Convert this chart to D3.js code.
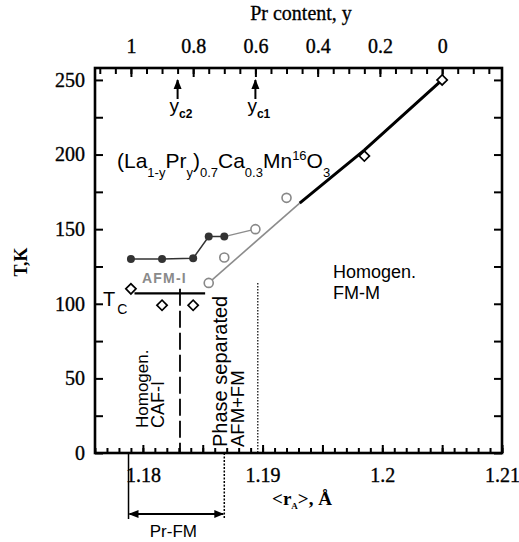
<!DOCTYPE html>
<html><head><meta charset="utf-8">
<script src="https://cdn.jsdelivr.net/npm/d3@7"></script>
<style>body{margin:0;background:#fff}svg{display:block}</style>
</head><body>
<svg id="chart" width="519" height="542"></svg>
<script>
// Phase diagram of (La1-yPry)0.7Ca0.3Mn16O3: transition temperatures vs <rA>
const fmDiamonds     = [[1.2050, 250], [1.1985, 199]];
const fmOpenCircles  = [[1.1920, 171], [1.1894, 150], [1.1868, 131], [1.1855, 114]];
const afmFilled      = [[1.1790, 130], [1.1816, 130], [1.1842, 130.5], [1.1855, 145], [1.1868, 145]];
const afmTail        = [[1.1868, 145], [1.1894, 150]];
const tcDiamonds     = [[1.1790, 110], [1.1816, 99], [1.1842, 99]];
const fmLineBlack    = [[1.2050, 250], [1.1985, 203], [1.1931, 167.5]];
const fmLineGray     = [[1.1931, 167.5], [1.1855, 114]];
const tcLine         = [[1.1793, 107], [1.1852, 107]];
const boundaryDashed = [[1.1831, 110], [1.1831, 0]];
const boundaryDotted = [[1.1896, 114], [1.1896, 0]];
const prFmRange      = [1.1788, 1.1868];
const ycMarks        = [{sub: "c2", y: 0.85}, {sub: "c1", y: 0.6}];

const xTickLabels   = [1.18, 1.19, 1.20, 1.21];
const yTickLabels   = [0, 50, 100, 150, 200, 250];
const topTickLabels = [1, 0.8, 0.6, 0.4, 0.2, 0];
const rAatY         = [1.2050, 1.1790];   // <rA> at y = 0 and y = 1

const svg = d3.select("#chart");
const L = 95, R = 502, T = 68, B = 453;

const x = d3.scaleLinear().domain([1.176, 1.21]).range([L, R]);
const y = d3.scaleLinear().domain([0, 258]).range([B, T]);
const xTop = d3.scaleLinear().domain([0, 1]).range([x(rAatY[0]), x(rAatY[1])]);

const serif = "'Liberation Serif','Times New Roman',serif";
const sans  = "'Liberation Sans',Arial,Helvetica,sans-serif";

// frame first, everything else on top of it
svg.append("rect").attr("x", L).attr("y", T).attr("width", R - L).attr("height", B - T)
  .style("fill", "none").style("stroke", "#000").style("stroke-width", "2.6px");

// ---- axes: labels plus inward tick marks ----
function styleLabels(g) {
  g.select(".domain").remove();
  g.selectAll(".tick line").remove();
  g.selectAll(".tick text").attr("font-family", serif).attr("font-size", 20)
    .attr("fill", "#000").attr("stroke", "#000").attr("stroke-width", 0.35);
}
function styleTicks(g) {
  g.select(".domain").remove();
  g.selectAll(".tick text").remove();
  g.selectAll(".tick line").style("stroke", "#000").style("stroke-width", "2px");
}
svg.append("g").attr("transform", `translate(0,${B})`)
  .call(d3.axisBottom(x).tickValues(xTickLabels).tickSize(0).tickPadding(15)
        .tickFormat(d => d3.format(".2~f")(d)))
  .call(styleLabels);
svg.append("g").attr("transform", `translate(${L},0)`)
  .call(d3.axisLeft(y).tickValues(yTickLabels).tickSize(0).tickPadding(10)).call(styleLabels);
svg.append("g").attr("transform", `translate(0,${T})`)
  .call(d3.axisTop(xTop).tickValues(topTickLabels).tickSize(0).tickPadding(15)
        .tickFormat(d => String(d)))
  .call(styleLabels);

const minorX = d3.range(1.176, 1.2101, 0.001).map(v => +v.toFixed(3));
const majorX = minorX.filter(v => Math.abs(v * 200 - Math.round(v * 200)) < 1e-6);
const yTicks = d3.range(0, 251, 25);
const topMinor = d3.range(-0.15, 1.101, 0.05).map(v => +v.toFixed(2));

svg.append("g").attr("transform", `translate(0,${B})`)
  .call(d3.axisTop(x).tickValues(minorX).tickSize(5)).call(styleTicks);
svg.append("g").attr("transform", `translate(0,${B})`)
  .call(d3.axisTop(x).tickValues(majorX).tickSize(8)).call(styleTicks);
svg.append("g").attr("transform", `translate(${L},0)`)
  .call(d3.axisRight(y).tickValues(yTicks).tickSize(8)).call(styleTicks);
svg.append("g").attr("transform", `translate(${R},0)`)
  .call(d3.axisLeft(y).tickValues(yTicks).tickSize(8)).call(styleTicks);
svg.append("g").attr("transform", `translate(0,${T})`)
  .call(d3.axisBottom(xTop).tickValues(topMinor).tickSize(6)).call(styleTicks);
svg.append("g").attr("transform", `translate(0,${T})`)
  .call(d3.axisBottom(xTop).tickValues(topTickLabels).tickSize(9)).call(styleTicks);

// ---- axis titles ----
svg.append("text").attr("x", 301).attr("y", 20).attr("text-anchor", "middle")
  .attr("font-family", serif).attr("font-size", 20)
  .attr("stroke", "#000").attr("stroke-width", 0.3).text("Pr content, y");

svg.append("text").attr("transform", "translate(27,262) rotate(-90)")
  .attr("text-anchor", "middle").attr("font-family", serif).attr("font-weight", "bold")
  .attr("font-size", 18).text("T,K");

const xt = svg.append("text").attr("x", 302).attr("y", 505).attr("text-anchor", "middle")
  .attr("font-family", serif).attr("font-weight", "bold").attr("font-size", 19);
xt.append("tspan").text("<r");
xt.append("tspan").attr("font-size", 9).attr("dy", 4).text("A");
xt.append("tspan").attr("dy", -4).text(">, Å");

// ---- lines ----
const line = d3.line().x(d => x(d[0])).y(d => y(d[1]));
svg.append("path").attr("d", line(fmLineGray)).attr("fill", "none")
  .attr("stroke", "#8c8c8c").attr("stroke-width", 1.6);
svg.append("path").attr("d", line(fmLineBlack)).attr("fill", "none")
  .attr("stroke", "#000").attr("stroke-width", 3);
svg.append("path").attr("d", line(afmTail)).attr("fill", "none")
  .attr("stroke", "#8c8c8c").attr("stroke-width", 1.4);
svg.append("path").attr("d", line(afmFilled)).attr("fill", "none")
  .attr("stroke", "#333").attr("stroke-width", 1.5);
svg.append("path").attr("d", line(tcLine)).attr("fill", "none")
  .attr("stroke", "#000").attr("stroke-width", 2.2);
svg.append("path").attr("d", line(boundaryDashed)).attr("fill", "none")
  .attr("stroke", "#000").attr("stroke-width", 1.8).attr("stroke-dasharray", "17,5");
svg.append("path").attr("d", line(boundaryDotted)).attr("fill", "none")
  .attr("stroke", "#000").attr("stroke-width", 1.2).attr("stroke-dasharray", "1.5,1.5");

// ---- markers ----
function diamonds(data) {
  svg.append("g").selectAll("path").data(data).join("path")
    .attr("transform", d => `translate(${x(d[0])},${y(d[1])}) rotate(45)`)
    .attr("d", d3.symbol().type(d3.symbolSquare).size(52))
    .attr("fill", "#fff").attr("stroke", "#000").attr("stroke-width", 1.7);
}
diamonds(fmDiamonds);
diamonds(tcDiamonds);

svg.append("g").selectAll("circle").data(fmOpenCircles).join("circle")
  .attr("cx", d => x(d[0])).attr("cy", d => y(d[1])).attr("r", 4.5)
  .attr("fill", "#fff").attr("stroke", "#888").attr("stroke-width", 1.6);
svg.append("g").selectAll("circle").data(afmFilled).join("circle")
  .attr("cx", d => x(d[0])).attr("cy", d => y(d[1])).attr("r", 4)
  .attr("fill", "#333");

// ---- y_c arrows ----
svg.append("defs").html(`
  <marker id="ah" viewBox="0 0 10 10" refX="9" refY="5" markerWidth="10" markerHeight="10"
          markerUnits="userSpaceOnUse" orient="auto-start-reverse">
    <path d="M0,1 L10,5 L0,9 Z" fill="#000"/></marker>`);
ycMarks.forEach(m => {
  const cx = xTop(m.y);
  svg.append("line").attr("x1", cx).attr("x2", cx).attr("y1", 99).attr("y2", 80)
    .attr("stroke", "#000").attr("stroke-width", 2).attr("marker-end", "url(#ah)");
  const t = svg.append("text").attr("x", cx - 8).attr("y", 112)
    .attr("font-family", sans).attr("font-size", 19);
  t.append("tspan").text("y");
  t.append("tspan").attr("font-size", 12).attr("font-weight", "bold").attr("dy", 6).text(m.sub);
});

// ---- compound formula ----
const f = svg.append("text").attr("x", 117).attr("y", 168)
  .attr("font-family", sans).attr("font-size", 21);
[["(La", 0, 21], ["1-y", 9, 13], ["Pr", -9, 21], ["y", 9, 13], [")", -9, 21],
 ["0.7", 9, 13], ["Ca", -9, 21], ["0.3", 9, 13], ["Mn", -9, 21], ["16", -8, 13],
 ["O", 8, 21], ["3", 9, 13]]
  .forEach(([s, dy, fs]) => f.append("tspan").attr("dy", dy).attr("font-size", fs).text(s));

// ---- region labels ----
svg.append("text").attr("x", 142).attr("y", 283).attr("font-family", sans).attr("font-weight", "bold")
  .attr("font-size", 14).attr("letter-spacing", 1.2).attr("fill", "#8a8a8a").text("AFM-I");

const tc = svg.append("text").attr("x", 103).attr("y", 306).attr("font-family", sans).attr("font-size", 20);
tc.append("tspan").text("T");
tc.append("tspan").attr("font-size", 14).attr("dy", 8).attr("dx", 2).text("C");

svg.append("text").attr("x", 333).attr("y", 278).attr("font-family", sans).attr("font-size", 18).text("Homogen.");
svg.append("text").attr("x", 333).attr("y", 299).attr("font-family", sans).attr("font-size", 18).text("FM-M");

function vText(xp, yp, s, fs) {
  svg.append("text").attr("transform", `translate(${xp},${yp}) rotate(-90)`)
    .attr("font-family", sans).attr("font-size", fs).text(s);
}
vText(148, 428, "Homogen.", 17);
vText(164, 428, "CAF-I", 18);
vText(227, 447, "Phase separated", 20);
vText(244, 447, "AFM+FM", 18.5);

// ---- Pr-FM range bracket ----
const bx0 = x(prFmRange[0]), bx1 = x(prFmRange[1]);
svg.append("line").attr("x1", bx0).attr("x2", bx0).attr("y1", B).attr("y2", 519)
  .attr("stroke", "#000").attr("stroke-width", 1.5);
svg.append("line").attr("x1", bx1).attr("x2", bx1).attr("y1", B).attr("y2", 519)
  .attr("stroke", "#000").attr("stroke-width", 1.5).attr("stroke-dasharray", "2,1.5");
svg.append("line").attr("x1", bx0 + 1).attr("x2", bx1 - 1).attr("y1", 514).attr("y2", 514)
  .attr("stroke", "#000").attr("stroke-width", 2)
  .attr("marker-start", "url(#ah)").attr("marker-end", "url(#ah)");
svg.append("text").attr("x", (bx0 + bx1) / 2 - 3).attr("y", 537).attr("text-anchor", "middle")
  .attr("font-family", sans).attr("font-size", 17).text("Pr-FM");
</script>
</body></html>
